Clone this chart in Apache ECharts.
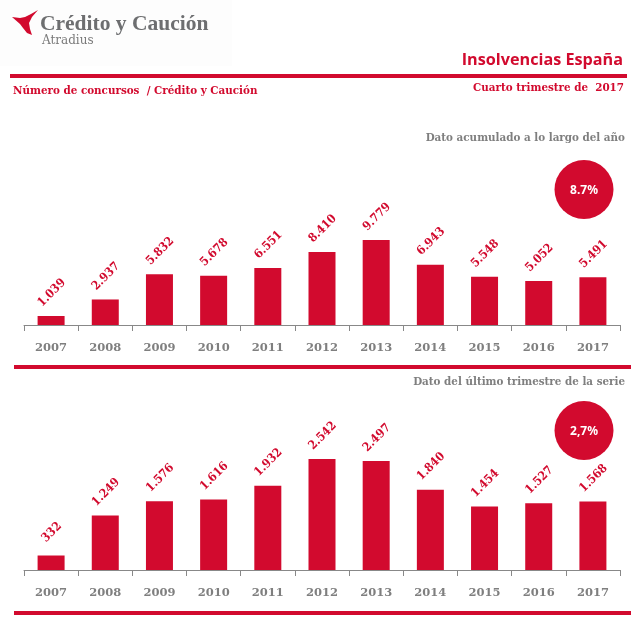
<!DOCTYPE html>
<html><head><meta charset="utf-8">
<style>html,body{margin:0;padding:0;background:#fff}#c{width:640px;height:621px}</style>
<script src="https://cdn.jsdelivr.net/npm/echarts@6/dist/echarts.min.js"></script>
</head><body><div id="c"></div>
<script>
const years = ['2007','2008','2009','2010','2011','2012','2013','2014','2015','2016','2017'];
const acumulado = [1039,2937,5832,5678,6551,8410,9779,6943,5548,5052,5491];
const trimestre = [332,1249,1576,1616,1932,2542,2497,1840,1454,1527,1568];
const RED = '#d20a2e', GREY = '#7f7f7f';
const SERIF = '"DejaVu Serif"', COND = '"DejaVu Serif Condensed"';
const fmt = v => String(v).replace(/\B(?=(\d{3})+$)/g, '.');
const ser = (data, i) => ({
  type: 'bar', data, xAxisIndex: i, yAxisIndex: i, barWidth: 27,
  itemStyle: {color: RED}, silent: true,
  label: {show: true, position: 'top', distance: 14, rotate: 45, offset: [7, 0], color: RED,
    fontFamily: COND, fontWeight: 'bold', fontSize: 12, formatter: p => fmt(p.value)}
});
const xa = i => ({
  type: 'category', data: years, gridIndex: i,
  axisLine: {lineStyle: {color: '#888', width: 1}},
  axisTick: {show: true, alignWithLabel: false, length: 6, lineStyle: {color: '#888'}},
  axisLabel: {color: GREY, fontFamily: SERIF, fontWeight: 'bold', fontSize: 11.5, margin: 17.5, interval: 0}
});
const ya = (i, max) => ({type: 'value', gridIndex: i, min: 0, max, show: false, splitLine: {show: false}});
const txt = (x, y, text, size, color, align, weight, family) => ({
  type: 'text', x, y, silent: true,
  style: {text, fontSize: size, fill: color, textAlign: align || 'left', textVerticalAlign: 'middle',
    fontWeight: weight || 'bold', fontFamily: family || COND}
});
const rule = (x, y, w) => ({type: 'rect', silent: true, shape: {x, y, width: w, height: 4}, style: {fill: RED}});
const dot = (x, y, label) => [
  {type: 'circle', silent: true, shape: {cx: x, cy: y, r: 29.5}, style: {fill: RED}, z: 5},
  {type: 'text', x, y: y + 1, silent: true, z: 6, style: {text: label, fill: '#fff', fontSize: 12, fontWeight: 'bold',
    fontFamily: '"Noto Sans"', textAlign: 'center', textVerticalAlign: 'middle'}}
];
const chart = echarts.init(document.getElementById('c'), null, {renderer: 'canvas'});
chart.setOption({
  animation: false, backgroundColor: '#fff',
  grid: [
    {left: 24, width: 596, top: 130, height: 195},
    {left: 24, width: 596, top: 410, height: 160}
  ],
  xAxis: [xa(0), xa(1)],
  yAxis: [ya(0, 22434), ya(1, 3664)],
  series: [ser(acumulado, 0), ser(trimestre, 1)],
  graphic: {elements: [
    {type: 'rect', silent: true, shape: {x: 0, y: 0, width: 232, height: 66}, style: {fill: '#fdfdfd'}},
    {type: 'polygon', silent: true, shape: {points: [[38,10],[32,17],[29,23],[30,29],[32,35],[27,33],[23,28],[20,24],[12,17],[20,18],[25,17],[31,14]]}, style: {fill: RED}},
    txt(40, 24, 'Crédito y Caución', 21.5, '#6d6e70', 'left', 'bold', '"Liberation Serif"'),
    txt(42, 40.5, 'Atradius', 12, '#7a7a7a', 'left', 'normal', SERIF),
    txt(623, 60, 'Insolvencias España', 16.2, RED, 'right', 'bold', '"Open Sans"'),
    rule(10, 74, 617),
    txt(13, 91, 'Número de concursos  / Crédito y Caución', 11.5, RED, 'left'),
    txt(624, 88, 'Cuarto trimestre de  2017', 11.5, RED, 'right'),
    txt(625, 138, 'Dato acumulado a lo largo del año', 11.5, GREY, 'right'),
    ...dot(584, 189.5, '8.7%'),
    rule(14, 365, 617),
    txt(625, 382, 'Dato del último trimestre de la serie', 11.5, GREY, 'right'),
    ...dot(584, 430.5, '2,7%'),
    rule(14, 611, 617)
  ]}
});
</script></body></html>
